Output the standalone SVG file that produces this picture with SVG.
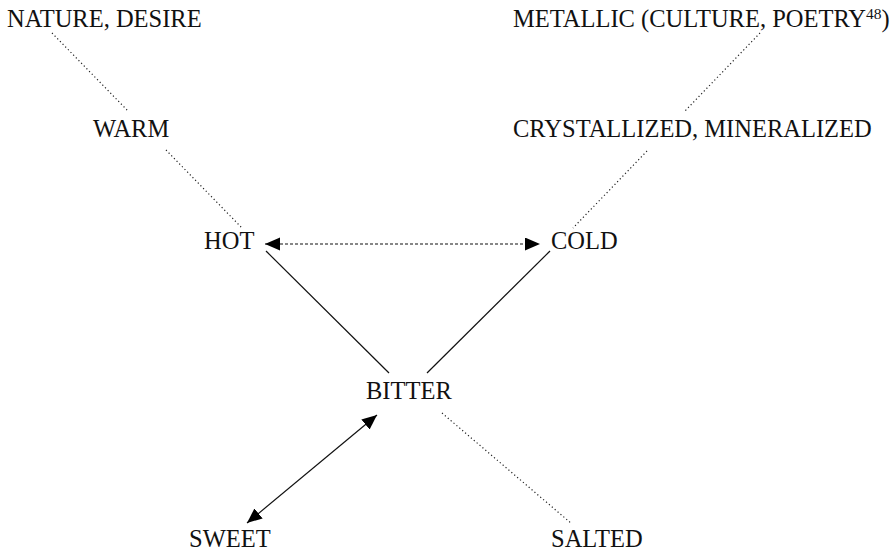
<svg xmlns="http://www.w3.org/2000/svg" width="890" height="552" viewBox="0 0 890 552">
<style>
text{font-family:"Liberation Serif","Times New Roman",serif;font-size:24.5px;fill:#111}
.dot{stroke:#222;stroke-width:1.2;stroke-dasharray:1.2,2.6;fill:none}
.dash{stroke:#111;stroke-width:1.1;stroke-dasharray:3,2;fill:none}
.solid{stroke:#111;stroke-width:1.2;fill:none}
</style>
<defs>
<marker id="ah" markerUnits="userSpaceOnUse" markerWidth="16" markerHeight="14" refX="15" refY="6.5" orient="auto-start-reverse" viewBox="0 0 16 14">
<path d="M0,0 L15,6.5 L0,13 z" fill="#000"/>
</marker>
</defs>
<rect width="890" height="552" fill="#fff"/>
<g id="connectors">
<line class="dot" x1="52" y1="33" x2="128" y2="111"/>
<line class="dot" x1="166" y1="150" x2="242" y2="228"/>
<line class="dot" x1="760" y1="33" x2="685" y2="111"/>
<line class="dot" x1="647" y1="151" x2="573" y2="228"/>
<line class="dash" x1="265" y1="244" x2="540" y2="244" marker-start="url(#ah)" marker-end="url(#ah)"/>
<line class="solid" x1="266" y1="251" x2="389" y2="373"/>
<line class="solid" x1="550" y1="251" x2="427" y2="373"/>
<line class="dot" x1="442" y1="413" x2="572" y2="524"/>
<line class="solid" x1="377" y1="415" x2="247" y2="523" marker-start="url(#ah)" marker-end="url(#ah)"/>
</g>
<g id="nature"><text x="7" y="27">NATURE, DESIRE</text></g>
<g id="metallic"><text x="513" y="27">METALLIC (CULTURE, POETRY<tspan font-size="15.5" dy="-8.5">48</tspan><tspan dy="8.5">)</tspan></text></g>
<g id="warm"><text x="93" y="137">WARM</text></g>
<g id="crystallized"><text x="513" y="137">CRYSTALLIZED, MINERALIZED</text></g>
<g id="hot"><text x="204" y="249">HOT</text></g>
<g id="cold"><text x="551" y="249">COLD</text></g>
<g id="bitter"><text x="366" y="399">BITTER</text></g>
<g id="sweet"><text x="189" y="547">SWEET</text></g>
<g id="salted"><text x="551" y="547">SALTED</text></g>
</svg>
